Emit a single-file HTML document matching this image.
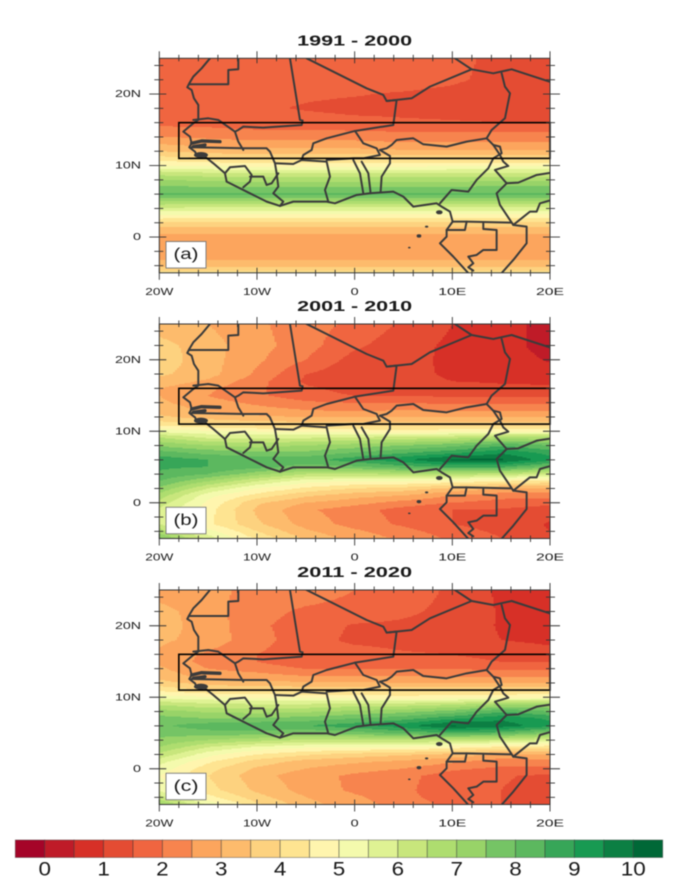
<!DOCTYPE html>
<html lang="en">
<head>
<meta charset="utf-8">
<title>Decadal maps over West Africa</title>
<style>
  html, body { margin: 0; padding: 0; background: #fff; }
  body { width: 685px; height: 878px; overflow: hidden; }
  svg { display: block; filter: blur(0.55px); }
  text { font-family: "Liberation Sans", sans-serif; fill: #1a1a1a; }
</style>
</head>
<body>
<svg id="figure" xmlns="http://www.w3.org/2000/svg" width="685" height="878" viewBox="0 0 685 878"></svg>
<script>
// ---- data ----
const lons = [-20, -15, -10, -5, 0, 5, 10, 15, 20];
const lats = [25, 22, 20, 18, 17, 16, 15, 14, 13, 12, 11, 10, 9, 8, 7, 6, 5, 4, 3, 2, 1, 0, -1, -3, -4, -5];

const values1991to2000 = [
  [1.7,1.7,1.7,1.7,1.7,1.7,1.6,1.4,1.2],
  [1.8,1.8,1.7,1.7,1.7,1.65,1.55,1.4,1.3],
  [1.8,1.7,1.6,1.55,1.52,1.47,1.42,1.35,1.3],
  [1.8,1.7,1.55,1.47,1.42,1.4,1.35,1.3,1.3],
  [1.85,1.8,1.65,1.55,1.5,1.45,1.4,1.35,1.3],
  [1.95,1.9,1.8,1.75,1.7,1.6,1.55,1.5,1.5],
  [2.05,2.05,2.0,2.0,1.95,1.9,1.9,1.9,1.9],
  [2.5,2.4,2.3,2.3,2.3,2.2,2.2,2.2,2.2],
  [3.0,2.8,2.7,2.7,2.7,2.6,2.6,2.6,2.6],
  [3.5,3.3,3.2,3.2,3.2,3.1,3.1,3.1,3.1],
  [4.2,4.0,3.9,3.9,3.9,3.9,3.9,3.9,3.9],
  [5.0,4.9,4.8,4.8,4.8,4.8,4.9,4.9,4.9],
  [6.2,6.0,5.9,5.9,5.9,5.9,6.0,6.0,6.0],
  [7.0,6.9,6.8,6.8,6.8,6.8,6.8,6.9,6.9],
  [7.6,7.5,7.5,7.5,7.5,7.5,7.5,7.6,7.6],
  [8.1,8.1,8.1,8.1,8.1,8.1,8.1,8.1,8.1],
  [7.0,6.9,6.9,6.9,6.9,6.9,6.9,6.9,6.9],
  [5.9,5.8,5.8,5.8,5.8,5.8,5.8,5.8,5.8],
  [4.9,4.8,4.8,4.8,4.8,4.8,4.8,4.8,4.8],
  [3.9,3.9,3.9,3.9,3.9,3.9,3.9,3.9,3.9],
  [3.2,3.2,3.2,3.2,3.2,3.2,3.2,3.2,3.2],
  [2.85,2.85,2.85,2.85,2.85,2.85,2.85,2.85,2.85],
  [2.7,2.7,2.7,2.7,2.7,2.7,2.7,2.7,2.7],
  [2.9,2.9,2.9,2.9,2.9,2.9,2.9,2.9,2.9],
  [3.4,3.4,3.4,3.4,3.4,3.4,3.4,3.4,3.4],
  [4.2,4.2,4.2,4.2,4.2,4.2,4.2,4.2,4.2]
];

const values2001to2010 = [
  [3.2,3.0,2.6,2.2,1.9,1.4,1.0,0.75,0.25],
  [3.7,3.2,2.7,2.2,1.6,1.2,0.9,0.7,0.3],
  [3.8,3.2,2.6,2.0,1.3,1.15,0.9,0.75,0.45],
  [3.6,3.2,2.4,1.5,1.15,1.1,0.95,0.85,0.7],
  [3.3,2.9,2.2,1.4,1.15,1.1,1.0,0.95,0.9],
  [3.0,2.6,2.1,1.6,1.3,1.2,1.2,1.1,1.1],
  [3.0,2.5,2.1,1.7,1.5,1.5,1.4,1.4,1.4],
  [3.1,2.7,2.4,2.1,2.0,2.0,1.9,1.9,1.9],
  [3.3,2.9,2.7,2.5,2.4,2.5,2.4,2.4,2.4],
  [3.6,3.3,3.1,3.0,3.0,3.0,3.0,3.0,3.0],
  [4.3,4.0,3.8,3.8,3.8,3.8,3.8,3.8,3.8],
  [5.4,5.1,5.0,4.9,4.8,4.7,4.8,4.9,5.0],
  [6.6,6.0,6.0,6.0,6.2,6.3,6.5,6.9,6.8],
  [7.4,7.0,6.8,7.0,7.2,7.5,7.8,8.4,8.0],
  [8.2,7.8,7.6,7.6,8.0,8.4,8.8,9.4,8.8],
  [8.8,8.5,8.3,8.3,8.8,9.4,10.1,10.1,9.2],
  [8.6,8.5,8.2,7.8,7.9,8.3,8.6,8.6,7.8],
  [8.4,8.0,7.2,6.5,6.4,6.6,6.6,6.4,6.0],
  [8.0,7.0,6.0,5.2,5.0,5.0,4.8,4.5,4.3],
  [7.4,6.0,5.0,4.4,4.0,3.8,3.4,3.0,3.0],
  [6.8,5.2,4.3,3.6,3.2,3.0,2.5,2.2,2.2],
  [6.3,4.9,3.6,3.0,2.7,2.3,2.0,1.8,1.7],
  [5.9,4.7,3.4,2.6,2.2,1.8,1.5,1.45,1.2],
  [6.0,4.6,3.6,2.8,2.3,1.9,1.5,1.3,0.95],
  [6.8,5.2,4.0,3.1,2.6,2.2,1.7,1.4,1.0],
  [7.6,5.8,4.4,3.4,2.8,2.4,1.9,1.5,1.1]
];

const values2011to2020 = [
  [2.7,2.6,2.4,2.3,2.0,1.8,1.4,0.9,0.85],
  [3.2,2.7,2.2,1.9,1.8,1.6,1.35,0.95,0.85],
  [3.2,2.8,2.1,1.75,1.45,1.4,1.3,0.95,0.85],
  [3.1,2.8,2.2,1.7,1.4,1.4,1.3,1.0,0.85],
  [3.0,2.6,2.1,1.7,1.55,1.45,1.4,1.25,1.05],
  [2.9,2.4,2.0,1.7,1.65,1.55,1.5,1.45,1.4],
  [2.9,2.3,2.0,1.6,1.6,1.6,1.55,1.5,1.5],
  [3.1,2.5,2.3,2.0,2.0,2.0,2.0,1.9,1.9],
  [3.3,2.8,2.7,2.5,2.5,2.5,2.4,2.4,2.4],
  [3.7,3.3,3.2,3.1,3.1,3.0,3.0,3.0,3.0],
  [4.4,4.0,4.0,3.9,3.9,3.9,3.9,3.9,3.9],
  [5.3,5.1,4.9,4.9,4.8,4.7,4.8,4.9,5.0],
  [6.4,6.1,6.0,6.0,6.2,6.2,6.4,6.9,6.9],
  [7.2,6.9,6.8,6.9,7.1,7.3,7.7,8.4,8.0],
  [7.7,7.5,7.6,7.7,8.0,8.3,8.9,9.4,8.9],
  [7.9,8.3,8.4,8.5,8.8,9.3,10.1,9.8,9.2],
  [7.7,7.8,7.8,7.6,7.8,8.2,8.5,8.3,7.6],
  [7.4,7.0,6.7,6.4,6.4,6.5,6.4,6.2,5.9],
  [7.0,6.0,5.4,5.1,5.0,5.0,4.7,4.4,4.2],
  [6.4,5.2,4.5,4.1,3.8,3.6,3.4,2.9,3.0],
  [5.7,4.6,3.8,3.3,3.1,2.9,2.6,2.2,2.3],
  [5.3,4.2,3.4,3.0,2.7,2.5,2.1,1.9,1.9],
  [5.0,4.0,3.2,2.7,2.4,2.15,1.75,1.55,1.4],
  [5.4,4.2,3.4,2.8,2.4,2.1,1.7,1.5,1.3],
  [6.2,4.7,3.7,3.0,2.6,2.15,1.75,1.5,1.35],
  [7.2,5.4,4.1,3.2,2.7,2.3,1.85,1.5,1.35]
];

const panelTitles = ["1991 - 2000", "2001 - 2010", "2011 - 2020"];
const panelLetters = ["(a)", "(b)", "(c)"];
const lonTicks = [-20, -10, 0, 10, 20];
const lonTickLabels = ["20W", "10W", "0", "10E", "20E"];
const latTicks = [0, 10, 20];
const latTickLabels = ["0", "10N", "20N"];
const colorbarTicks = [0, 1, 2, 3, 4, 5, 6, 7, 8, 9, 10];
const regionBox = [-18, 20, 11, 16];
const palette = ["#a50428","#bf1b28","#d73027","#e44c33","#f06540","#f7844e","#fca55d","#fdbb6c","#fdd27f","#fee491","#fff5ae","#f4faad","#dff293","#c8e67c","#aedd6f","#98d368","#75c465","#5cb85f","#37a658","#189a52","#0c7f43","#006837"];
const levelMin = -0.5;
const levelStep = 0.5;

// Map outlines traced in reference pixels × 3, positioned per panel.
const borderLines = [
  "240,85 215,115 190,140 178,160 172,172 185,180 192,205 205,225 205,270 190,280 160,305 180,320 185,340 178,352 195,365 200,375 225,380 250,400 285,430 290,455 320,470 360,490 410,515 450,528 490,515 590,515 615,520 680,495 720,490 790,485 820,500 850,530 920,520 935,530 960,545 968,575 950,600 950,620 930,640 970,680 1020,735",
  "325,85 325,118 295,120 295,163 178,163",
  "480,85 510,270 518,272 515,285 400,293 340,290 325,300 315,305",
  "190,270 235,265 265,270 315,305 325,335 340,360",
  "185,352 340,355 410,355 420,365 435,400 440,430 445,470 430,490 460,515 450,528",
  "285,430 300,412 345,408 365,435 360,455 340,472",
  "360,440 400,440 410,465 425,460 445,430",
  "435,400 490,402 515,390 590,395 600,440 585,480 595,515",
  "515,390 520,375 545,360 550,340 590,325 675,303 700,340 740,355 750,375 700,385 670,385 590,390",
  "670,390 690,430 700,490",
  "695,395 715,430 722,490",
  "750,360 780,378 780,400 755,440 752,485",
  "675,303 790,285 800,210 770,213 760,195 710,175 530,85",
  "770,213 845,205 900,170 1025,118 975,85",
  "1025,118 1090,130 1145,118 1265,157",
  "1115,130 1125,170 1140,190 1130,240 1125,265 1085,300 1070,325",
  "750,360 770,355 785,345 800,330 850,325 880,343 950,350 1010,335 1070,325",
  "1070,325 1090,345 1110,350 1115,370 1090,385 1075,415 1040,450 1015,485 965,480 930,520",
  "1090,345 1110,375 1120,395 1135,408 1095,420 1130,460 1100,490 1110,525 1150,585",
  "1130,460 1165,458 1220,435 1265,428",
  "1150,585 1200,545 1220,545 1230,520 1265,510",
  "968,575 1010,575 1145,578",
  "950,600 1005,600 1010,575",
  "1060,580 1060,597 1100,600 1100,660 1060,660 1040,675 1015,680 1030,700 1015,712 1030,722",
  "1150,585 1190,590 1190,640 1150,690 1110,735"
];
const gambiaLines = [
  "185,340 215,333 270,335",
  "190,350 225,345"
];
const islandSpots = [
  [928, 547, 10, 6],
  [890, 590, 5, 3],
  [867, 618, 7, 5],
  [838, 653, 4, 2.5]
];
const bissauCoast = [213, 375, 21, 9];

// ---- axis functions ----
const plotLeft = 159.3;
const plotWidth = 390.7;
const plotHeight = 214.5;
const panelTops = [58.3, 324, 590];
const panelSeries = [values1991to2000, values2001to2010, values2011to2020];

function xScale(lon) { return plotLeft + (lon + 20) / 40 * plotWidth; }
function yScale(top, lat) { return top + (25 - lat) / 30 * plotHeight; }
function barScale(v) { return 15.3 + (v - levelMin) / levelStep * (647.4 / palette.length); }

function bracket(arr, v) {
  for (let i = 0; i < arr.length - 1; i++) {
    const a = arr[i], b = arr[i + 1];
    if ((v >= a && v <= b) || (v <= a && v >= b)) return [i, (v - a) / (b - a)];
  }
  return [arr.length - 2, 1];
}
function sample(grid, lon, lat) {
  const [i, u] = bracket(lons, lon);
  const [j, t] = bracket(lats, lat);
  const top = grid[j][i] * (1 - u) + grid[j][i + 1] * u;
  const bot = grid[j + 1][i] * (1 - u) + grid[j + 1][i + 1] * u;
  return top * (1 - t) + bot * t;
}
function levelIndex(v) {
  return Math.max(0, Math.min(palette.length - 1, Math.floor((v - levelMin) / levelStep)));
}

// ---- drawing helpers ----
const NS = "http://www.w3.org/2000/svg";
const fig = document.getElementById("figure");
function make(tag, attrs, parent) {
  const el = document.createElementNS(NS, tag);
  for (const k in attrs) el.setAttribute(k, attrs[k]);
  (parent || fig).appendChild(el);
  return el;
}
function label(txt, x, y, size, anchor, weight, width, parent) {
  const el = make("text", {
    x: x, y: y, "font-size": size, "text-anchor": anchor,
    "font-weight": weight, "dominant-baseline": "central"
  }, parent);
  if (width) {
    el.setAttribute("textLength", width);
    el.setAttribute("lengthAdjust", "spacingAndGlyphs");
  }
  el.textContent = txt;
  return el;
}
function pointsToPath(s) { return "M" + s.trim().split(" ").join("L"); }

const defs = make("defs", {});

function drawPanel(idx) {
  const top = panelTops[idx];
  const grid = panelSeries[idx];
  const panel = make("g", {});
  
  

  const clip = make("clipPath", { id: "clip" + idx }, defs);
  make("rect", { x: plotLeft, y: top, width: plotWidth, height: plotHeight }, clip);

  const title = label(panelTitles[idx], plotLeft + plotWidth / 2, top - 17.5, 15, "middle", 700, 115, panel);
  
  

  // filled contour bands, run-merged along each latitude strip
  const field = make("g", { "clip-path": "url(#clip" + idx + ")", "shape-rendering": "crispEdges" }, panel);
  
  
  const nLat = 215, nLon = 200;
  const dLat = 30 / nLat, dLon = 40 / nLon;
  for (let r = 0; r < nLat; r++) {
    const lat = 25 - r * dLat;
    let runStart = 0;
    let runLevel = levelIndex(sample(grid, -20 + dLon / 2, lat - dLat / 2));
    for (let c = 1; c <= nLon; c++) {
      const lv = c < nLon ? levelIndex(sample(grid, -20 + (c + 0.5) * dLon, lat - dLat / 2)) : -1;
      if (lv !== runLevel) {
        const x0 = xScale(-20 + runStart * dLon);
        const x1 = xScale(-20 + c * dLon);
        const cell = make("rect", {
          x: x0.toFixed(2),
          y: yScale(top, lat).toFixed(2),
          width: (x1 - x0 + 0.4).toFixed(2),
          height: (yScale(top, lat - dLat) - yScale(top, lat) + 0.4).toFixed(2),
          fill: palette[runLevel]
        }, field);
        
        
        runStart = c;
        runLevel = lv;
      }
    }
  }

  // country borders
  const map = make("g", {
    "clip-path": "url(#clip" + idx + ")"
  }, panel);
  
  
  const inner = make("g", {
    transform: "translate(" + (plotLeft - 88 / 3) + "," + (top - 85 / 3) + ") scale(0.33333)",
    fill: "none", stroke: "#3b3b3b", "stroke-width": 6,
    "stroke-linejoin": "round", "stroke-linecap": "round"
  }, map);
  borderLines.forEach(function (s) {
    const line = make("path", { d: pointsToPath(s) }, inner);
    
    
  });
  gambiaLines.forEach(function (s) {
    const line = make("path", { d: pointsToPath(s), "stroke-width": 10 }, inner);
    
    
  });
  const coastBlob = make("ellipse", { cx: bissauCoast[0], cy: bissauCoast[1], rx: bissauCoast[2], ry: bissauCoast[3], fill: "#3b3b3b", stroke: "none" }, inner);
  
  
  islandSpots.forEach(function (p) {
    const isle = make("ellipse", { cx: p[0], cy: p[1], rx: p[2], ry: p[3], fill: "#3b3b3b", stroke: "none" }, inner);
    
    
  });

  // study-region box
  const box = make("rect", {
    x: xScale(regionBox[0]), y: yScale(top, regionBox[3]),
    width: xScale(regionBox[1]) - xScale(regionBox[0]),
    height: yScale(top, regionBox[2]) - yScale(top, regionBox[3]),
    fill: "none", stroke: "#000", "stroke-width": 1.6
  }, panel);
  
  

  // frame
  const frame = make("rect", {
    x: plotLeft, y: top, width: plotWidth, height: plotHeight,
    fill: "none", stroke: "#333", "stroke-width": 1
  }, panel);
  
  

  // ticks
  const ticks = make("g", { stroke: "#333", "stroke-width": 0.9 }, panel);
  
  
  const bottom = top + plotHeight;
  const right = plotLeft + plotWidth;
  for (let lon = -20; lon <= 20; lon += 2) {
    const major = lon % 10 === 0;
    const o = major ? 7 : 3.5, n = major ? 5 : 3;
    const x = xScale(lon);
    make("line", { x1: x, x2: x, y1: top - o, y2: top + n }, ticks);
    make("line", { x1: x, x2: x, y1: bottom - n, y2: bottom + o }, ticks);
  }
  for (let lat = -4; lat <= 24; lat += 2) {
    const major = lat % 10 === 0;
    const o = major ? 10 : 5, n = major ? 7 : 4;
    const y = yScale(top, lat);
    make("line", { x1: plotLeft - o, x2: plotLeft + n, y1: y, y2: y }, ticks);
    make("line", { x1: right - n, x2: right + o, y1: y, y2: y }, ticks);
  }

  // tick labels
  lonTicks.forEach(function (lon, i) {
    const txt = lonTickLabels[i];
    const w = txt.length === 1 ? 8 : 28;
    const t = label(txt, xScale(lon), bottom + 19, 10.5, "middle", 400, w, panel);
    
    
  });
  latTicks.forEach(function (lat, i) {
    const txt = latTickLabels[i];
    const w = txt.length === 1 ? 8 : 26;
    const t = label(txt, 141, yScale(top, lat), 10.5, "end", 400, w, panel);
    
    
  });

  // panel letter
  const tagBox = make("rect", {
    x: 166, y: yScale(top, 0) + 4.5, width: 40, height: 26.5,
    fill: "#fff", stroke: "#777", "stroke-width": 0.9
  }, panel);
  
  
  const tag = label(panelLetters[idx], 186, yScale(top, 0) + 17.5, 16, "middle", 400, 25, panel);
  
  
}

panelSeries.forEach(function (g, i) { drawPanel(i); });

// ---- colour bar ----
const bar = make("g", {});


palette.forEach(function (c, i) {
  const v0 = levelMin + i * levelStep;
  const swatch = make("rect", {
    x: barScale(v0), y: 840, width: barScale(v0 + levelStep) - barScale(v0), height: 17.5,
    fill: c, stroke: "#333", "stroke-opacity": 0.45, "stroke-width": 0.9
  }, bar);
  
  
});
colorbarTicks.forEach(function (v) {
  const t = label(String(v), barScale(v), 870, 19, "middle", 400, v === 10 ? 25 : 12.5, bar);
  
  
});
</script>
</body>
</html>
